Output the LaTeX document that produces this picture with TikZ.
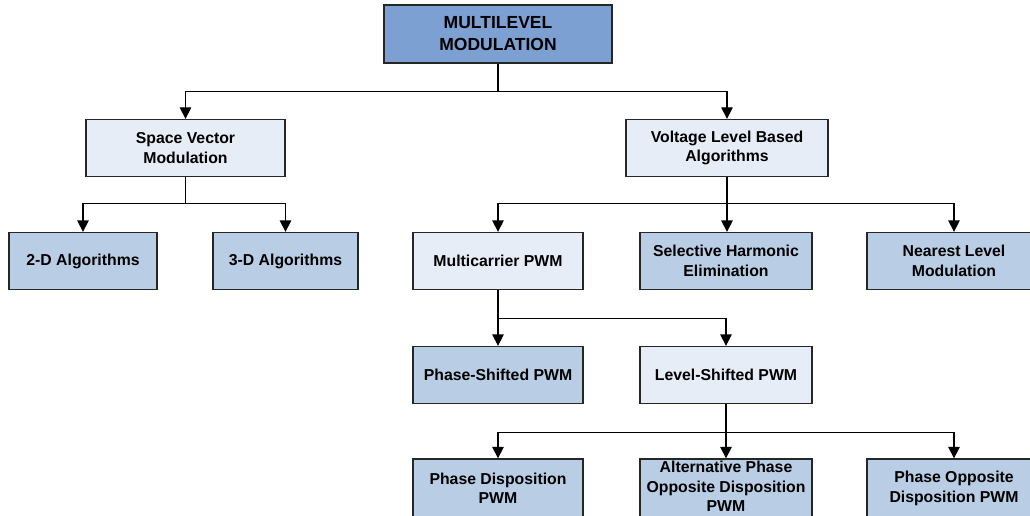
\documentclass[tikz,border=0pt]{standalone}
\usepackage{fontspec}
\setmainfont{Liberation Sans}
\usetikzlibrary{arrows.meta}
\definecolor{cdark}{RGB}{124,160,209}
\definecolor{cmid}{RGB}{185,205,229}
\definecolor{clight}{RGB}{230,237,246}
\tikzset{
  box/.style={draw=black!85, line width=1.3pt, align=center, inner sep=0pt,
    minimum height=57pt, font=\fontsize{15.8}{19.3}\selectfont\bfseries},
  boxdark/.style={box, fill=cdark, font=\fontsize{17.5}{22}\selectfont\bfseries},
  boxmid/.style={box, fill=cmid},
  boxlight/.style={box, fill=clight},
  btext/.style={align=center, inner sep=0pt, font=\fontsize{15.8}{19.3}\selectfont\bfseries},
  arr/.style={line width=1.3pt, -{Triangle[width=11.5pt,length=11.5pt]}}
}
\begin{document}
\begin{tikzpicture}[x=1pt,y=-1pt]
\clip (0,0) rectangle (1030,516);
\fill[white] (0,0) rectangle (1030,516);
\node[boxdark, minimum width=228pt, minimum height=58pt] (top) at (498,34) {MULTILEVEL\\MODULATION};
\node[boxlight, minimum width=199pt] (svm) at (185.5,148) {Space Vector\\Modulation};
\node[boxlight, minimum width=202pt] (vlb) at (727,148) {Voltage Level Based\\Algorithms};
\node[boxmid, minimum width=148pt] (twod) at (83,261) {2-D Algorithms};
\node[boxmid, minimum width=145pt] (threed) at (285.5,261) {3-D Algorithms};
\node[boxlight, minimum width=170pt] (mc) at (498,261) {Multicarrier PWM};
\node[boxmid, minimum width=172pt] (she) at (726,261) {Selective Harmonic\\Elimination};
\node[boxmid, minimum width=174pt] (nlm) at (954,261) {Nearest Level\\Modulation};
\node[boxmid, minimum width=170pt] (ps) at (498,375) {Phase-Shifted PWM};
\node[boxlight, minimum width=172pt] (ls) at (726,375) {Level-Shifted PWM};
\node[boxmid, minimum width=170pt, minimum height=62pt] (pd) at (498,490) {};
\node[boxmid, minimum width=172pt, minimum height=62pt] (apod) at (726,490) {};
\node[boxmid, minimum width=174pt, minimum height=62pt] (pod) at (954,490) {};
\node[btext] (pdt) at (498,488.5) {Phase Disposition\\PWM};
\node[btext] (apodt) at (726,486.5) {Alternative Phase\\Opposite Disposition\\PWM};
\node[btext] (podt) at (954,488.5) {Phase Opposite\\Disposition PWM};
% connectors
\draw[line width=1.3pt] (top.south) -- ++(0,28) coordinate (f1);
\draw[arr] (f1) -| (svm.north);
\draw[arr] (f1) -| (vlb.north);
\draw[line width=1.3pt] (svm.south) -- ++(0,26) coordinate (f2);
\draw[arr] (f2) -| (twod.north);
\draw[arr] (f2) -| (threed.north);
\draw[arr] (vlb.south) -- (vlb.south |- she.north);
\path (vlb.south) ++(0,26) coordinate (f3);
\draw[arr] (f3) -| (mc.north);
\draw[arr] (f3) -| (nlm.north);
\draw[line width=1.3pt] (mc.south) -- ++(0,28) coordinate (f4);
\draw[arr] (f4) -- (ps.north);
\draw[arr] (f4) -| (ls.north);
\draw[arr] (ls.south) -- (ls.south |- apod.north);
\path (ls.south) ++(0,28) coordinate (f5);
\draw[arr] (f5) -| (pd.north);
\draw[arr] (f5) -| (pod.north);
\end{tikzpicture}
\end{document}
